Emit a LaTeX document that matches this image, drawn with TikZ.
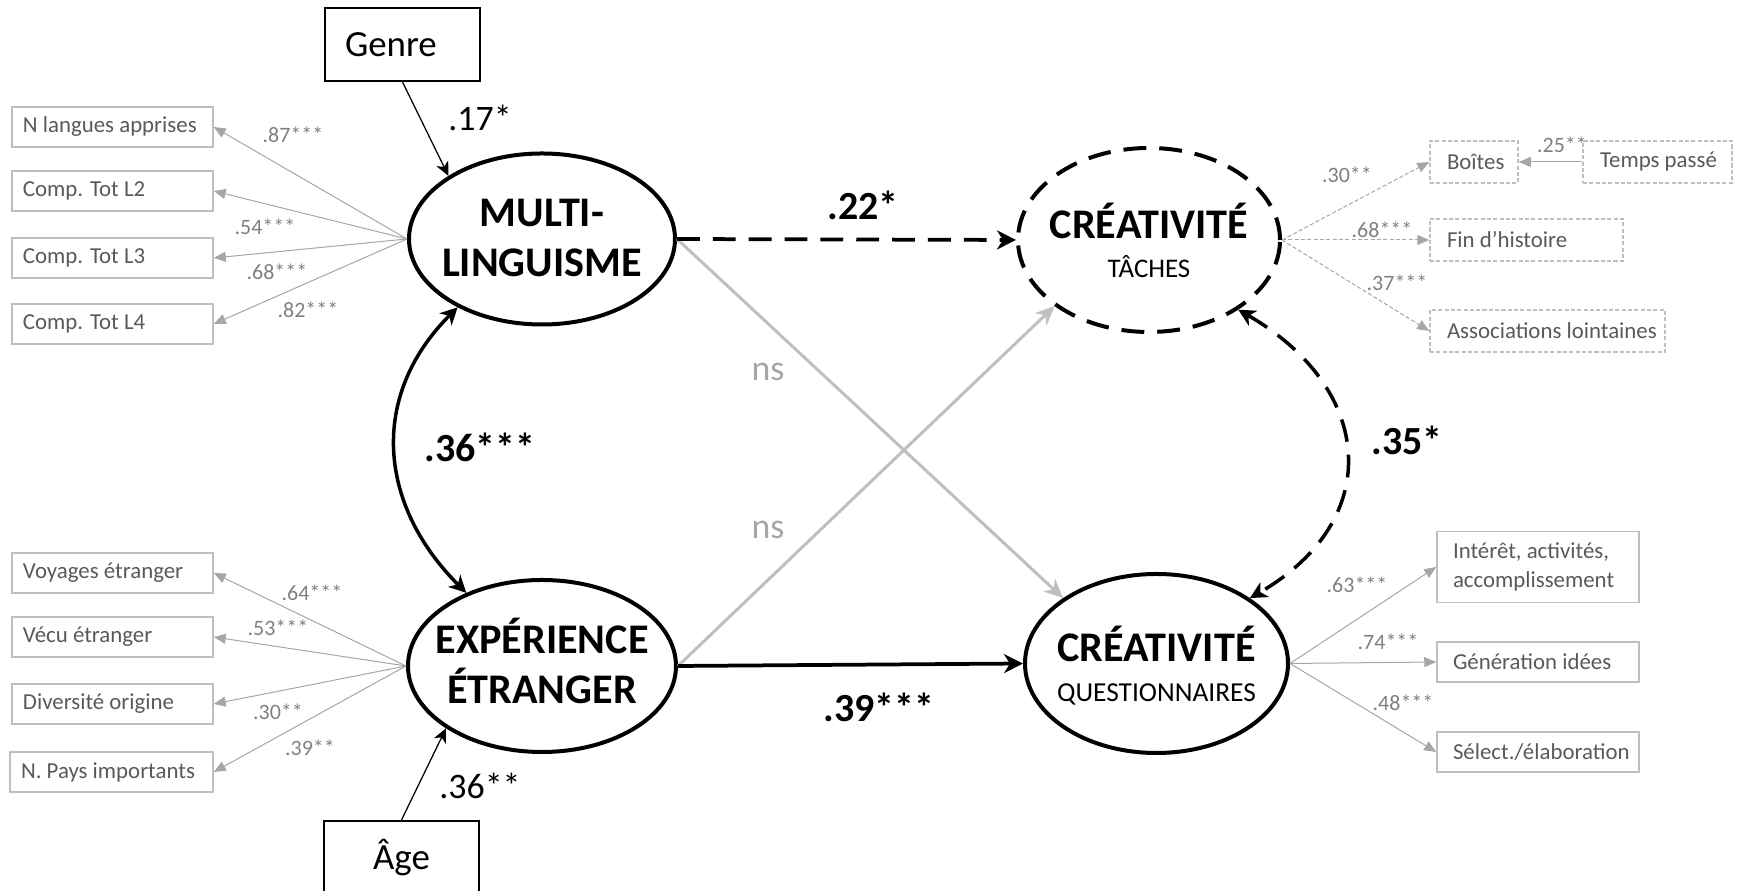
\documentclass[tikz,border=0pt]{standalone}
\usepackage{fontspec}
\setmainfont{Carlito}
\usetikzlibrary{arrows.meta,shapes.geometric}

\definecolor{boxgrey}{HTML}{BFBFBF}
\definecolor{txtgrey}{HTML}{595959}
\definecolor{loadgrey}{HTML}{808080}
\definecolor{arrgrey}{HTML}{A6A6A6}
\definecolor{crossgrey}{HTML}{BFBFBF}

\def\lbox#1#2{\makebox[#1][l]{#2}}

\tikzset{
  latent/.style={ellipse, draw, line width=0.8mm, inner sep=0pt},
  latname/.style={align=center, font=\fontsize{24}{28.5}\selectfont\bfseries},
  obsbox/.style={draw, line width=0.4mm, minimum width=3.1cm, minimum height=1.46cm, font=\fontsize{21}{25}\selectfont},
  indbox/.style={draw=boxgrey, line width=0.3mm, text=txtgrey, minimum height=0.8cm, inner xsep=0.22cm, align=left, font=\fontsize{13}{16.4}\selectfont},
  taskbox/.style={indbox, dash pattern=on 2.3pt off 1.3pt, minimum height=0.84cm, inner xsep=0.34cm},
  quesbox/.style={indbox, inner xsep=0.32cm},
  loading/.style={text=loadgrey, font=\fontsize{12.5}{15}\selectfont},
  coef/.style={font=\fontsize{20.4}{24}\selectfont},
  bigcoef/.style={font=\fontsize{22.7}{27}\selectfont\bfseries},
  nslabel/.style={text=arrgrey, font=\fontsize{20.4}{24}\selectfont},
  indarrow/.style={arrgrey, line width=0.2mm, -{Triangle[length=0.24cm,width=0.2cm]}},
  thinarrow/.style={line width=0.25mm, -{Stealth[length=0.28cm,width=0.26cm,inset=0.08cm]}},
  patharrow/.style={line width=0.75mm, -{Stealth[length=0.38cm,width=0.38cm,inset=0.12cm]}},
  covarrow/.style={line width=0.7mm, {Stealth[length=0.34cm,width=0.34cm,inset=0.1cm]}-{Stealth[length=0.34cm,width=0.34cm,inset=0.1cm]}},
  crossarrow/.style={crossgrey, line width=0.6mm, -{Stealth[length=0.38cm,width=0.34cm,inset=0.12cm]}},
  bigdash/.style={dash pattern=on 13pt off 7.4pt},
}

\begin{document}
\begin{tikzpicture}
		%%%%% START %%%%%
		\useasboundingbox (0, 0) rectangle (34.8, 17.82);

		% latent variables
		\node[latent, minimum width=5.32cm, minimum height=3.42cm] (ml) at (10.84, 13.04) {};
		\node[latent, minimum width=5.36cm, minimum height=3.44cm] (exp) at (10.84, 4.5) {};
		\node[latent, bigdash, minimum width=5.24cm, minimum height=3.68cm] (ct) at (22.98, 13.02) {};
		\node[latent, minimum width=5.26cm, minimum height=3.58cm] (cq) at (23.13, 4.55) {};

		\node[latname] (mltxt) at (10.84, 13.06) {MULTI-\\LINGUISME};
		\node[latname] (exptxt) at (10.84, 4.6) {EXPÉRIENCE\\ÉTRANGER};
		\node[latname] (cttxt) at (22.98, 13.02) {CRÉATIVITÉ\\[-6.4pt]\textmd{\fontsize{15.3}{18}\selectfont TÂCHES}};
		\node[latname] (cqtxt) at (23.13, 4.5) {CRÉATIVITÉ\\[-5.8pt]\textmd{\fontsize{15.6}{18}\selectfont QUESTIONNAIRES}};

		% covariates
		\node[obsbox, align=left, text width=2.3cm, inner xsep=0.4cm] (genre) at (8.05, 16.93) {Genre};
		\node[obsbox] (age) at (8.03, 0.67) {Âge};

		% indicators multilinguisme
		\node[indbox] (nla) at (2.25, 15.28) {\lbox{3.58cm}{N langues apprises}};
		\node[indbox] (ctl2) at (2.25, 14.0) {\lbox{3.58cm}{Comp. Tot L2}};
		\node[indbox] (ctl3) at (2.25, 12.66) {\lbox{3.58cm}{Comp. Tot L3}};
		\node[indbox] (ctl4) at (2.25, 11.34) {\lbox{3.58cm}{Comp. Tot L4}};

		% indicators experience
		\node[indbox] (voy) at (2.25, 6.36) {\lbox{3.58cm}{Voyages étranger}};
		\node[indbox] (vecu) at (2.25, 5.08) {\lbox{3.58cm}{Vécu étranger}};
		\node[indbox] (div) at (2.25, 3.74) {\lbox{3.58cm}{Diversité origine}};
		\node[indbox] (pays) at (2.23, 2.38) {\lbox{3.62cm}{N. Pays importants}};

		% indicators tasks
		\node[taskbox] (boites) at (29.48, 14.58) {\lbox{1.08cm}{Boîtes}};
		\node[taskbox] (temps) at (33.15, 14.58) {\lbox{2.3cm}{Temps passé}};
		\node[taskbox] (fin) at (30.53, 13.02) {\lbox{3.18cm}{Fin d’histoire}};
		\node[taskbox] (assoc) at (30.95, 11.2) {\lbox{4.02cm}{Associations lointaines}};

		% indicators questionnaires
		\node[quesbox, minimum height=1.42cm] (inter) at (30.76, 6.48) {\lbox{3.4cm}{Intérêt, activités,}\\\lbox{3.4cm}{accomplissement}};
		\node[quesbox] (gen) at (30.76, 4.58) {\lbox{3.4cm}{Génération idées}};
		\node[quesbox] (sel) at (30.76, 2.78) {\lbox{3.4cm}{Sélect./élaboration}};

		% measurement arrows
		\draw[indarrow] (ml.west) -- (nla.east);
		\draw[indarrow] (ml.west) -- (ctl2.east);
		\draw[indarrow] (ml.west) -- (ctl3.east);
		\draw[indarrow] (ml.west) -- (ctl4.east);
		\draw[indarrow] (exp.west) -- (voy.east);
		\draw[indarrow] (exp.west) -- (vecu.east);
		\draw[indarrow] (exp.west) -- (div.east);
		\draw[indarrow] (exp.west) -- (pays.east);
		\draw[indarrow, dash pattern=on 2.3pt off 1.3pt] (ct.east) -- (boites.west);
		\draw[indarrow, dash pattern=on 2.3pt off 1.3pt] (ct.east) -- (fin.west);
		\draw[indarrow, dash pattern=on 2.3pt off 1.3pt] (ct.east) -- (assoc.west);
		\draw[indarrow] (temps.west) -- (boites.east);
		\draw[indarrow] (cq.east) -- (inter.west);
		\draw[indarrow] (cq.east) -- (gen.west);
		\draw[indarrow] (cq.east) -- (sel.west);

		\node[loading] (w1) at (5.86, 15.12) {.87***};
		\node[loading] (w2) at (5.3, 13.28) {.54***};
		\node[loading] (w3) at (5.54, 12.38) {.68***};
		\node[loading] (w4) at (6.16, 11.62) {.82***};
		\node[loading] (w5) at (6.24, 5.96) {.64***};
		\node[loading] (w6) at (5.56, 5.26) {.53***};
		\node[loading] (w7) at (5.56, 3.58) {.30**};
		\node[loading] (w8) at (6.2, 2.86) {.39**};
		\node[loading] (w9) at (26.94, 14.32) {.30**};
		\node[loading] (w10) at (27.64, 13.22) {.68***};
		\node[loading] (w11) at (27.94, 12.16) {.37***};
		\node[loading] (w12) at (31.24, 14.92) {.25**};
		\node[loading] (w13) at (27.14, 6.12) {.63***};
		\node[loading] (w14) at (27.76, 4.98) {.74***};
		\node[loading] (w15) at (28.06, 3.76) {.48***};

		% structural paths
		\draw[thinarrow] (genre.south) -- (ml.146);
		\draw[thinarrow] (age.north) -- (exp.213);
		\draw[crossarrow] (ml.east) -- (cq.145);
		\draw[crossarrow] (exp.east) -- (ct.215);
		\draw[patharrow, bigdash] (ml.east) -- (ct.west);
		\draw[patharrow] (exp.east) -- (cq.west);
		\draw[covarrow] (ml.219) to[out=225, in=135, looseness=1.12] (exp.136);
		\draw[covarrow, bigdash] (ct.322) to[out=-30, in=30, looseness=1.39] (cq.35);

		\node[coef] (c1) at (9.6, 15.46) {.17*};
		\node[coef] (c2) at (9.6, 2.1) {.36**};
		\node[bigcoef] (c3) at (9.6, 8.88) {.36***};
		\node[bigcoef] (c4) at (17.26, 13.72) {.22*};
		\node[bigcoef] (c5) at (17.58, 3.68) {.39***};
		\node[bigcoef] (c6) at (28.14, 9.02) {.35*};
		\node[nslabel] (ns1) at (15.36, 10.38) {ns};
		\node[nslabel] (ns2) at (15.36, 7.22) {ns};

		%%%%% END %%%%%
	\end{tikzpicture}
\end{document}
